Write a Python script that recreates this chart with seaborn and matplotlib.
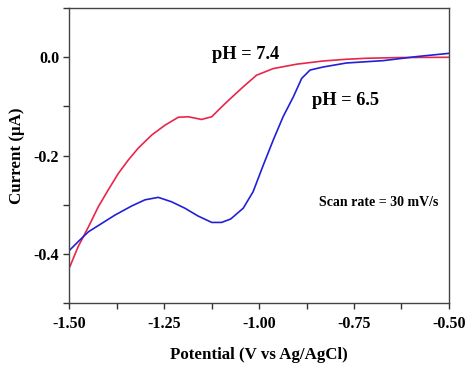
import numpy as np
import pandas as pd
import matplotlib
matplotlib.use("Agg")
import matplotlib.pyplot as plt
import seaborn as sns
from matplotlib.ticker import MultipleLocator, FormatStrFormatter

# datos (potencial en V, corriente en uA)
pot_74 = [-1.499, -1.477, -1.450, -1.424, -1.398, -1.371, -1.345, -1.319, -1.283, -1.248,
          -1.213, -1.187, -1.152, -1.125, -1.099, -1.080, -1.042, -1.007, -0.963, -0.901,
          -0.831, -0.770, -0.717, -0.629, -0.500]
cur_74 = [-0.426, -0.385, -0.345, -0.304, -0.270, -0.236, -0.209, -0.185, -0.158, -0.138,
          -0.122, -0.121, -0.1265, -0.121, -0.101, -0.087, -0.060, -0.0365, -0.023, -0.014,
          -0.0075, -0.004, -0.002, -0.0005, 0.000]

pot_65 = [-1.499, -1.477, -1.450, -1.415, -1.380, -1.336, -1.301, -1.266, -1.231, -1.196,
          -1.161, -1.125, -1.099, -1.075, -1.042, -1.016, -0.989, -0.963, -0.937, -0.910,
          -0.888, -0.866, -0.831, -0.770, -0.673, -0.585, -0.500]
cur_65 = [-0.392, -0.375, -0.355, -0.338, -0.321, -0.3025, -0.290, -0.285, -0.294, -0.307,
          -0.323, -0.336, -0.336, -0.329, -0.307, -0.2735, -0.219, -0.1685, -0.121, -0.0805,
          -0.043, -0.026, -0.0197, -0.0116, -0.0068, 0.0014, 0.008]

df = pd.concat([
    pd.DataFrame({"pot": pot_74, "cur": cur_74, "pH": "7.4"}),
    pd.DataFrame({"pot": pot_65, "cur": cur_65, "pH": "6.5"}),
])

sns.set_style("ticks")
plt.rcParams["font.family"] = ["Liberation Serif", "DejaVu Serif"]
plt.rcParams["font.weight"] = "bold"
plt.rcParams["text.color"] = "black"
plt.rcParams["axes.labelcolor"] = "black"

fig = plt.figure(figsize=(4.74, 3.70), dpi=100)
ax = fig.add_axes([0.1466, 0.181, 0.8004, 0.797])

sns.lineplot(data=df, x="pot", y="cur", hue="pH", sort=False, estimator=None,
             palette={"7.4": "#e8264a", "6.5": "#2020d8"}, linewidth=1.2,
             legend=False, ax=ax)

ax.set_xlim(-1.5, -0.5)
ax.set_ylim(-0.5, 0.1)
ax.xaxis.set_major_locator(MultipleLocator(0.25))
ax.xaxis.set_minor_locator(MultipleLocator(0.125))
ax.yaxis.set_major_locator(MultipleLocator(0.2))
ax.yaxis.set_minor_locator(MultipleLocator(0.1))
ax.xaxis.set_major_formatter(FormatStrFormatter("%.2f"))
ax.yaxis.set_major_formatter(FormatStrFormatter("%.1f"))
ax.tick_params(which="both", direction="out", length=4, width=1, colors="#333333",
               labelcolor="black", labelsize=11.5)
ax.tick_params(axis="x", pad=5)
for s in ax.spines.values():
    s.set_color("#444444")
    s.set_linewidth(1)

ax.set_xlabel("Potential (V vs Ag/AgCl)", fontsize=12.2, fontweight="bold", labelpad=11)
ax.set_ylabel("Current (\u03bcA)", fontsize=12.2, fontweight="bold", labelpad=6)

ax.text(-1.1245, 0.006, "pH = 7.4", fontsize=13.2, fontweight="bold", va="center")
ax.text(-0.861, -0.087, "pH = 6.5", fontsize=13.2, fontweight="bold", va="center")
ax.text(-0.5264, -0.296, "Scan rate = 30 mV/s", fontsize=10, fontweight="bold",
        va="center", ha="right")

fig.savefig("out.png", dpi=100)
